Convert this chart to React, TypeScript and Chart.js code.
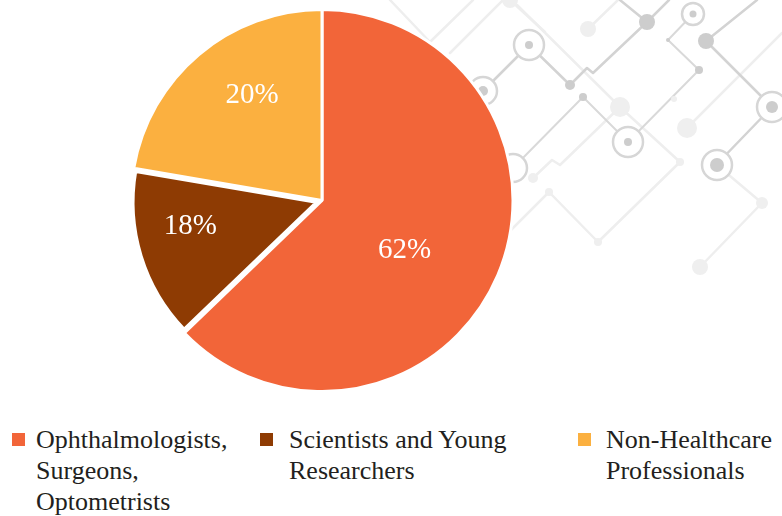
import React, { useEffect, useRef } from "react";
import { Chart, registerables } from "chart.js";

Chart.register(...registerables);

// ---- data ----
const categories = [
  "Ophthalmologists, Surgeons, Optometrists",
  "Scientists and Young Researchers",
  "Non-Healthcare Professionals",
];
// slice sizes as drawn in the picture
const shares = [62.8, 14.9, 22.3];
// percentage texts printed on the slices
const shareLabels = ["62%", "18%", "20%"];
const sliceColors = ["#F26539", "#8E3B03", "#FBB040"];
const sliceOffsets = [0, 24, 0];
const sliceRadiusTrim = [0, 9, 0];

// ---- decorative background (circuit pattern) ----
type P = [number, number];
const darkLines: P[][] = [
  [[483, 91], [529, 45], [570, 85], [587, 68], [593, 73], [647, 22], [669, 0]],
  [[620, 0], [647, 22]],
  [[757, 0], [706, 41], [772, 107], [717, 164]],
];
const midLines: P[][] = [
  [[693, 14], [668, 40], [699, 70], [628, 142]],
  [[628, 142], [583, 97], [513, 168]],
];
const lightLines: P[][] = [
  [[390, 0], [430, 42], [473, 0]],
  [[450, 53], [503, 0]],
  [[517, 5], [620, 107], [680, 162], [598, 242], [549, 192], [505, 236]],
  [[533, 178], [552, 160], [560, 165], [620, 107]],
  [[717, 165], [762, 203], [700, 267]],
  [[687, 128], [782, 33]],
  [[588, 29], [618, 0]],
  [[510, 0], [545, 32]],
];
const rings: [number, number, number][] = [
  [529, 45, 15], [628, 142, 15], [772, 107, 15], [717, 165, 15],
  [483, 91, 14], [513, 168, 14], [693, 14, 11],
];
const darkDots: [number, number, number][] = [
  [529, 45, 4], [570, 85, 5], [647, 22, 8], [706, 41, 8], [699, 70, 4],
  [628, 142, 4], [772, 107, 6], [717, 165, 7], [583, 97, 4], [693, 14, 3.5],
  [668, 40, 2], [483, 91, 5],
];
const lightDots: [number, number, number][] = [
  [588, 29, 8], [620, 107, 10], [687, 128, 10], [762, 203, 6], [700, 267, 8],
  [598, 242, 4], [680, 162, 4], [549, 192, 4], [533, 178, 5], [674, 99, 3],
  [510, 0, 8],
];

const bgPlugin = {
  id: "circuitBg",
  beforeDraw(chart: any) {
    const ctx: CanvasRenderingContext2D = chart.ctx;
    ctx.save();
    ctx.lineCap = "round";
    ctx.lineJoin = "round";
    const poly = (pts: P[], color: string, w: number) => {
      ctx.beginPath();
      ctx.moveTo(pts[0][0], pts[0][1]);
      for (let i = 1; i < pts.length; i++) ctx.lineTo(pts[i][0], pts[i][1]);
      ctx.strokeStyle = color;
      ctx.lineWidth = w;
      ctx.stroke();
    };
    lightLines.forEach((l) => poly(l, "#eeeeee", 2.5));
    midLines.forEach((l) => poly(l, "#d9d9d9", 2));
    darkLines.forEach((l) => poly(l, "#d3d3d3", 2.5));
    lightDots.forEach(([x, y, r]) => {
      ctx.beginPath();
      ctx.arc(x, y, r, 0, Math.PI * 2);
      ctx.fillStyle = "#efefef";
      ctx.fill();
    });
    rings.forEach(([x, y, r]) => {
      ctx.beginPath();
      ctx.arc(x, y, r, 0, Math.PI * 2);
      ctx.fillStyle = "#ffffff";
      ctx.fill();
      ctx.strokeStyle = "#d6d6d6";
      ctx.lineWidth = 2.5;
      ctx.stroke();
    });
    darkDots.forEach(([x, y, r]) => {
      ctx.beginPath();
      ctx.arc(x, y, r, 0, Math.PI * 2);
      ctx.fillStyle = "#cdcdcd";
      ctx.fill();
    });
    ctx.restore();
  },
};

const trimPlugin = {
  id: "radiusTrim",
  beforeDatasetsDraw(chart: any) {
    const meta = chart.getDatasetMeta(0);
    const full = meta.controller.outerRadius;
    meta.data.forEach((arc: any, i: number) => {
      arc.outerRadius = full - (sliceRadiusTrim[i] || 0);
    });
  },
};

const labelPlugin = {
  id: "sliceLabels",
  afterDatasetsDraw(chart: any) {
    const ctx: CanvasRenderingContext2D = chart.ctx;
    const meta = chart.getDatasetMeta(0);
    const R = meta.controller.outerRadius;
    ctx.save();
    ctx.fillStyle = "#ffffff";
    ctx.font = "29px 'Liberation Serif', 'Times New Roman', serif";
    ctx.textAlign = "center";
    ctx.textBaseline = "middle";
    meta.data.forEach((arc: any, i: number) => {
      const { x, y, startAngle, endAngle } = arc.getProps(
        ["x", "y", "startAngle", "endAngle"],
        true
      );
      const mid = (startAngle + endAngle) / 2;
      const off = (sliceOffsets[i] || 0) / 4;
      const ang = mid + (7 * Math.PI) / 180;
      const frac = shares[i] >= 50 ? 0.5 : 0.67;
      const lx = x + Math.cos(mid) * off + Math.cos(ang) * R * frac;
      const ly = y + Math.sin(mid) * off + Math.sin(ang) * R * frac + 2;
      ctx.fillText(shareLabels[i], lx, ly);
    });
    ctx.restore();
  },
};

function PieChart() {
  const ref = useRef<HTMLCanvasElement | null>(null);
  useEffect(() => {
    if (!ref.current) return;
    const chart = new Chart(ref.current, {
      type: "pie",
      data: {
        labels: categories,
        datasets: [
          {
            data: shares,
            backgroundColor: sliceColors,
            borderColor: "#ffffff",
            borderWidth: 3,
            offset: sliceOffsets,
          },
        ],
      },
      options: {
        responsive: false,
        animation: false,
        radius: 191,
        layout: { padding: { left: 0, right: 138, top: 0, bottom: 0 } },
        plugins: {
          legend: { display: false },
          tooltip: { enabled: false },
        },
      } as any,
      plugins: [bgPlugin, trimPlugin, labelPlugin],
    });
    return () => chart.destroy();
  }, []);
  return (
    <canvas
      ref={ref}
      width={782}
      height={401}
      style={{ position: "absolute", left: 0, top: 0, width: 782, height: 401 }}
    />
  );
}

const legendSquareX = [12, 260, 578];
const legendTextX = [36, 289, 606];
const legendTextW = [215, 250, 176];

export default function App() {
  return (
    <div
      style={{
        position: "absolute",
        left: 0,
        top: 0,
        width: 782,
        height: 516,
        background: "#ffffff",
        overflow: "hidden",
      }}
    >
      <PieChart />
      {categories.map((c, i) => (
        <React.Fragment key={c}>
          <div
            style={{
              position: "absolute",
              left: legendSquareX[i],
              top: 433,
              width: 13,
              height: 13,
              background: sliceColors[i],
            }}
          />
          <div
            style={{
              position: "absolute",
              left: legendTextX[i],
              top: 424,
              width: legendTextW[i],
              fontFamily: "'Liberation Serif', 'Times New Roman', serif",
              fontSize: 26,
              lineHeight: "31px",
              color: "#231f20",
            }}
          >
            {c}
          </div>
        </React.Fragment>
      ))}
    </div>
  );
}
